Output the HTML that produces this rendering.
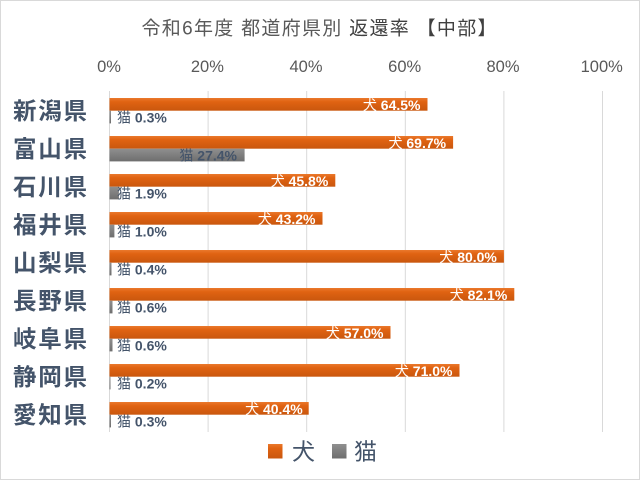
<!DOCTYPE html>
<html>
<head>
<meta charset="utf-8">
<style>
  html,body{margin:0;padding:0;background:#fff;}
  svg{display:block;}
  text{font-family:"Liberation Sans","Noto Sans CJK JP",sans-serif;}
</style>
</head>
<body>
<svg width="640" height="480" viewBox="0 0 640 480" xmlns="http://www.w3.org/2000/svg">
  <defs>
    <linearGradient id="dog" x1="0" y1="0" x2="0" y2="1">
      <stop offset="0" stop-color="#EA792C"/>
      <stop offset="0.3" stop-color="#E06312"/>
      <stop offset="1" stop-color="#C9570E"/>
    </linearGradient>
    <linearGradient id="cat" x1="0" y1="0" x2="0" y2="1">
      <stop offset="0" stop-color="#8F8F8F"/>
      <stop offset="0.3" stop-color="#858585"/>
      <stop offset="1" stop-color="#6E6E6E"/>
    </linearGradient>
  </defs>
  <rect x="0" y="0" width="640" height="480" fill="#fff"/>
  <rect x="0.5" y="0.5" width="639" height="479" fill="none" stroke="#D9D9D9" stroke-width="1"/>

  <!-- Title -->
  <text x="319" y="34.5" font-size="19" fill="#595959" text-anchor="middle" textLength="355" lengthAdjust="spacing">令和6年度 都道府県別 <tspan fill="#404040">返還率 【中部】</tspan></text>

  <!-- Axis labels -->
  <g font-size="16.5" fill="#595959" text-anchor="middle">
    <text x="109" y="72">0%</text>
    <text x="207.4" y="72">20%</text>
    <text x="306" y="72">40%</text>
    <text x="404.7" y="72">60%</text>
    <text x="503" y="72">80%</text>
    <text x="601.7" y="72">100%</text>
  </g>

  <!-- Gridlines -->
  <g stroke="#D9D9D9" stroke-width="1">
    <line x1="109.5" y1="91" x2="109.5" y2="432"/>
    <line x1="208.1" y1="91" x2="208.1" y2="432"/>
    <line x1="306.7" y1="91" x2="306.7" y2="432"/>
    <line x1="405.3" y1="91" x2="405.3" y2="432"/>
    <line x1="503.9" y1="91" x2="503.9" y2="432"/>
    <line x1="602.5" y1="91" x2="602.5" y2="432"/>
  </g>

  <!-- Category labels -->
  <g font-size="23.5" font-weight="bold" fill="#44546A">
    <text x="13" y="119" textLength="74" lengthAdjust="spacing">新潟県</text>
    <text x="13" y="157" textLength="74" lengthAdjust="spacing">富山県</text>
    <text x="13" y="195" textLength="74" lengthAdjust="spacing">石川県</text>
    <text x="13" y="233" textLength="74" lengthAdjust="spacing">福井県</text>
    <text x="13" y="271" textLength="74" lengthAdjust="spacing">山梨県</text>
    <text x="13" y="309" textLength="74" lengthAdjust="spacing">長野県</text>
    <text x="13" y="347" textLength="74" lengthAdjust="spacing">岐阜県</text>
    <text x="13" y="385" textLength="74" lengthAdjust="spacing">静岡県</text>
    <text x="13" y="423" textLength="74" lengthAdjust="spacing">愛知県</text>
  </g>

  <!-- Dog bars (scale 4.93 px per %) -->
  <g fill="url(#dog)">
    <rect x="109.5" y="98"  width="318.0" height="12.7"/>
    <rect x="109.5" y="136" width="343.6" height="12.7"/>
    <rect x="109.5" y="174" width="225.8" height="12.7"/>
    <rect x="109.5" y="212" width="213.0" height="12.7"/>
    <rect x="109.5" y="250" width="394.4" height="12.7"/>
    <rect x="109.5" y="288" width="404.8" height="12.7"/>
    <rect x="109.5" y="326" width="281.0" height="12.7"/>
    <rect x="109.5" y="364" width="350.0" height="12.7"/>
    <rect x="109.5" y="402" width="199.2" height="12.7"/>
  </g>

  <!-- Cat bars -->
  <g fill="url(#cat)">
    <rect x="109.5" y="110.7" width="1.5"   height="12.7"/>
    <rect x="109.5" y="148.7" width="135.1" height="12.7"/>
    <rect x="109.5" y="186.7" width="9.4"   height="12.7"/>
    <rect x="109.5" y="224.7" width="4.9"   height="12.7"/>
    <rect x="109.5" y="262.7" width="2.0"   height="12.7"/>
    <rect x="109.5" y="300.7" width="3.0"   height="12.7"/>
    <rect x="109.5" y="338.7" width="3.0"   height="12.7"/>
    <rect x="109.5" y="376.7" width="1.0"   height="12.7"/>
    <rect x="109.5" y="414.7" width="1.5"   height="12.7"/>
  </g>

  <!-- Dog labels -->
  <g font-size="14" fill="#FFFFFF" text-anchor="end">
    <text x="420.5" y="109.8">犬 <tspan font-weight="bold">64.5%</tspan></text>
    <text x="446.1" y="147.8">犬 <tspan font-weight="bold">69.7%</tspan></text>
    <text x="328.3" y="185.8">犬 <tspan font-weight="bold">45.8%</tspan></text>
    <text x="315.5" y="223.8">犬 <tspan font-weight="bold">43.2%</tspan></text>
    <text x="496.9" y="261.8">犬 <tspan font-weight="bold">80.0%</tspan></text>
    <text x="507.3" y="299.8">犬 <tspan font-weight="bold">82.1%</tspan></text>
    <text x="383.5" y="337.8">犬 <tspan font-weight="bold">57.0%</tspan></text>
    <text x="452.5" y="375.8">犬 <tspan font-weight="bold">71.0%</tspan></text>
    <text x="302.7" y="413.8">犬 <tspan font-weight="bold">40.4%</tspan></text>
  </g>

  <!-- Cat labels -->
  <g font-size="14" fill="#44546A">
    <text x="117" y="122.5">猫 <tspan font-weight="bold">0.3%</tspan></text>
    <text x="237" y="160.5" text-anchor="end">猫 <tspan font-weight="bold">27.4%</tspan></text>
    <text x="117" y="198.5">猫 <tspan font-weight="bold">1.9%</tspan></text>
    <text x="117" y="236.5">猫 <tspan font-weight="bold">1.0%</tspan></text>
    <text x="117" y="274.5">猫 <tspan font-weight="bold">0.4%</tspan></text>
    <text x="117" y="312.5">猫 <tspan font-weight="bold">0.6%</tspan></text>
    <text x="117" y="350.5">猫 <tspan font-weight="bold">0.6%</tspan></text>
    <text x="117" y="388.5">猫 <tspan font-weight="bold">0.2%</tspan></text>
    <text x="117" y="426.5">猫 <tspan font-weight="bold">0.3%</tspan></text>
  </g>

  <!-- Legend -->
  <rect x="268" y="444" width="14.5" height="14.5" fill="url(#dog)"/>
  <text x="292" y="459.5" font-size="23" fill="#44546A">犬</text>
  <rect x="332" y="444" width="14.5" height="14.5" fill="url(#cat)"/>
  <text x="354" y="459.5" font-size="23" fill="#44546A">猫</text>
</svg>
</body>
</html>
